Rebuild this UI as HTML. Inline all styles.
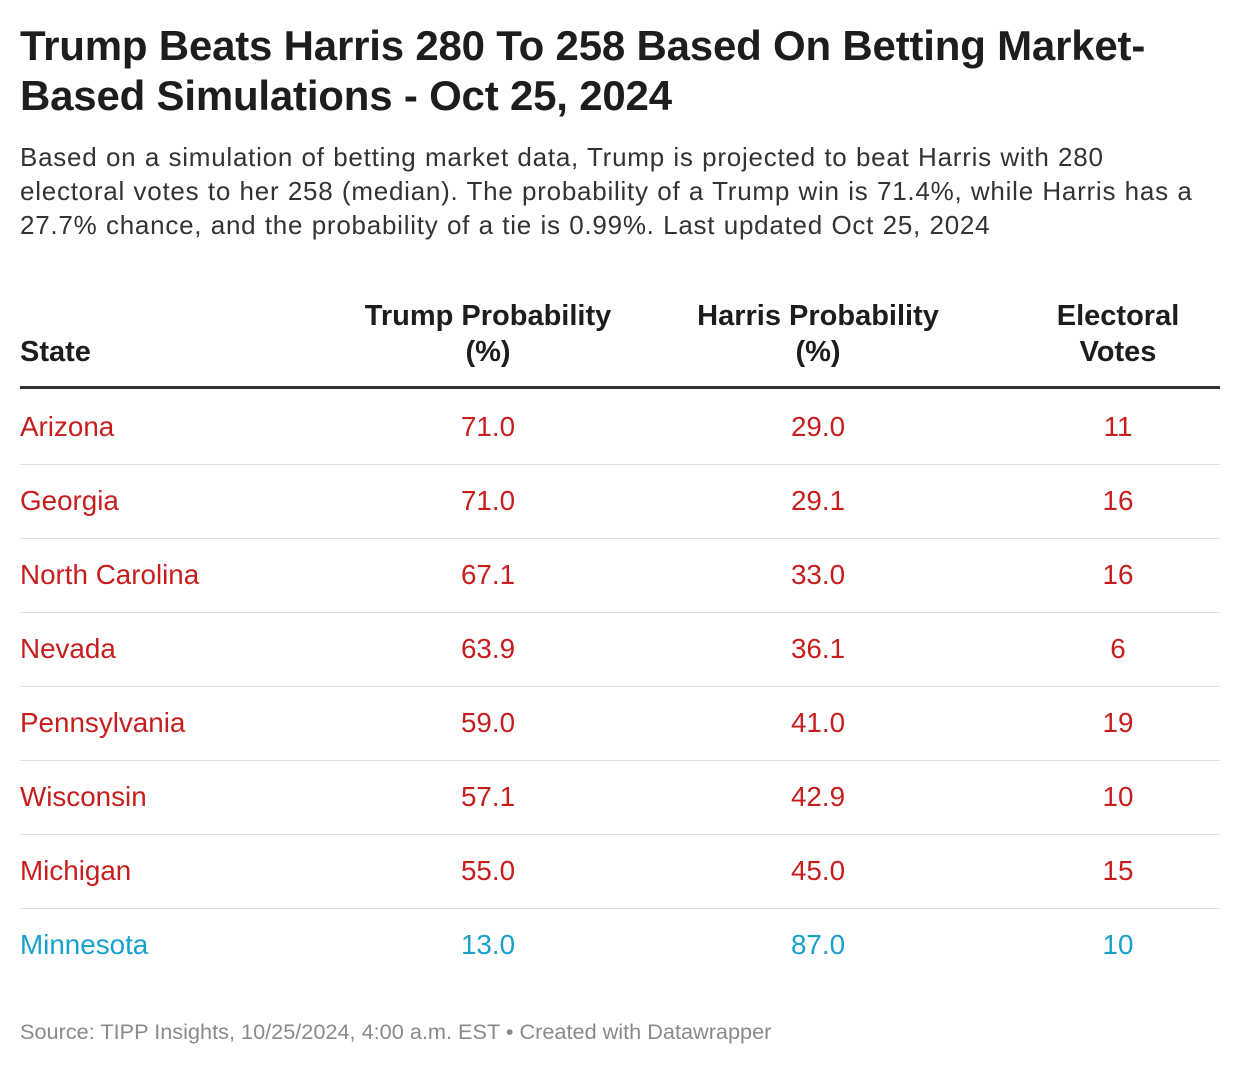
<!DOCTYPE html>
<html><head><meta charset="utf-8">
<style>
body{margin:0;width:1240px;height:1066px;background:#fff;font-family:"Liberation Sans",Arial,sans-serif;color:#1d1d1d;position:relative;overflow:hidden}
.a{position:absolute;white-space:nowrap}
h1{position:absolute;left:20px;top:21px;margin:0;font-size:42px;line-height:50px;font-weight:bold;width:1220px;white-space:nowrap;letter-spacing:-0.2px}
.desc{position:absolute;left:20px;top:140px;width:1220px;font-size:26px;line-height:34px;color:#333;white-space:nowrap;letter-spacing:0.75px;word-spacing:0.5px}
.hd{position:absolute;font-weight:bold;font-size:29px;line-height:36px;text-align:center;color:#1d1d1d}
.row{position:absolute;left:20px;width:1200px;height:74px;border-bottom:1px solid #e0e0e0;font-size:27.8px}
.row span{position:absolute;top:22px;line-height:30px}
.c{transform:translateX(-50%)}
.red{color:#c71e1d}.blue{color:#18a1cd}
.foot{position:absolute;left:20px;top:1019px;font-size:21.7px;color:#8a8a8a;white-space:nowrap}
</style></head><body>
<h1>Trump Beats Harris 280 To 258 Based On Betting Market-<br>Based Simulations - Oct 25, 2024</h1>
<div class="desc">Based on a simulation of betting market data, Trump is projected to beat Harris with 280<br>electoral votes to her 258 (median). The probability of a Trump win is 71.4%, while Harris has a<br>27.7% chance, and the probability of a tie is 0.99%. Last updated Oct 25, 2024</div>
<div class="hd" style="left:20px;top:334px;text-align:left">State</div>
<div class="hd" style="left:318px;width:340px;top:298px">Trump Probability<br>(%)</div>
<div class="hd" style="left:648px;width:340px;top:298px">Harris Probability<br>(%)</div>
<div class="hd" style="left:1018px;width:200px;top:298px">Electoral<br>Votes</div>
<div class="a" style="left:20px;top:386px;width:1200px;height:3px;background:#333"></div>
<div id="tbody"></div>
<div class="foot">Source: TIPP Insights, 10/25/2024, 4:00 a.m. EST • Created with Datawrapper</div>
<script>
const states=["Arizona","Georgia","North Carolina","Nevada","Pennsylvania","Wisconsin","Michigan","Minnesota"];
const trump=["71.0","71.0","67.1","63.9","59.0","57.1","55.0","13.0"];
const harris=["29.0","29.1","33.0","36.1","41.0","42.9","45.0","87.0"];
const votes=["11","16","16","6","19","10","15","10"];
const tb=document.getElementById('tbody');
states.forEach((s,i)=>{
  const r=document.createElement('div');
  r.className='row '+(parseFloat(trump[i])>50?'red':'blue');
  r.style.top=(390+i*74)+'px';
  if(i===states.length-1) r.style.borderBottom='none';
  
  
  r.innerHTML='<span style="left:0">'+s+'</span><span class="c" style="left:468px">'+trump[i]+'</span><span class="c" style="left:798px">'+harris[i]+'</span><span class="c" style="left:1098px">'+votes[i]+'</span>';
  tb.appendChild(r);
});
</script>
</body></html>
